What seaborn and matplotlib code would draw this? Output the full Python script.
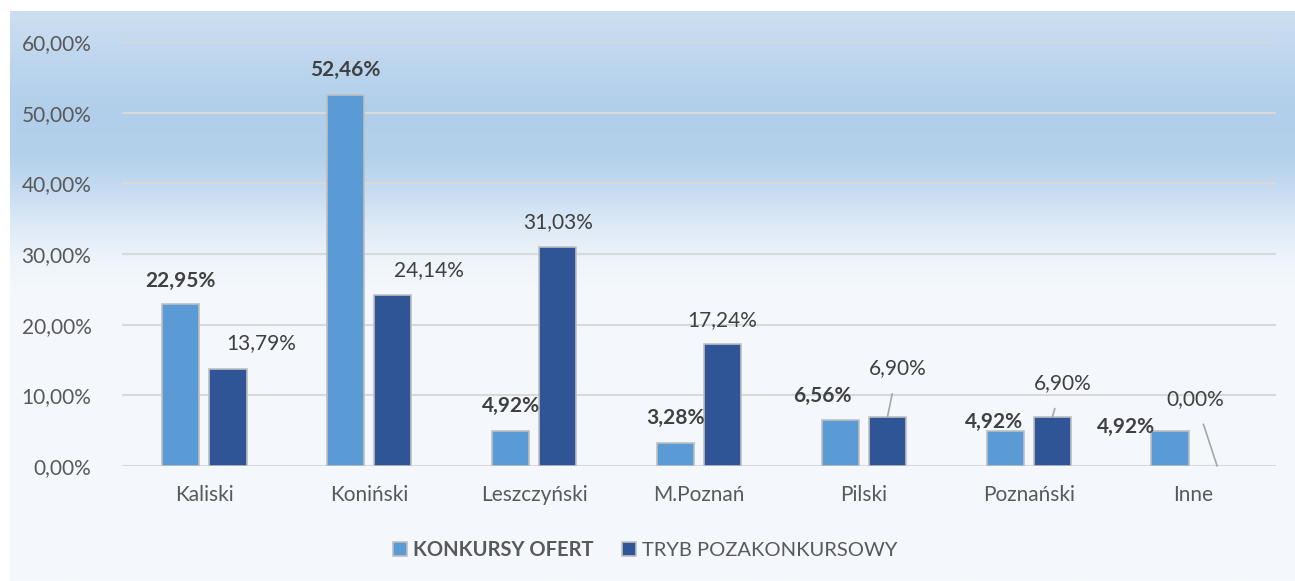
import numpy as np
import pandas as pd
import matplotlib.pyplot as plt
import seaborn as sns
from matplotlib.colors import LinearSegmentedColormap

# data
regions = ['Kaliski', 'Koniński', 'Leszczyński', 'M.Poznań', 'Pilski', 'Poznański', 'Inne']
konkursy = [22.95, 52.46, 4.92, 3.28, 6.56, 4.92, 4.92]
tryb = [13.79, 24.14, 31.03, 17.24, 6.90, 6.90, 0.00]
series = ['KONKURSY OFERT', 'TRYB POZAKONKURSOWY']

# label offsets from the bar top (pixels) and which labels get a leader line
off_konk = [(0, 23), (0, 25), (0, 25), (0, 25), (-18, 24), (-11, 9), (-44, 4)]
off_tryb = [(33, 25), (36, 25), (0, 25), (0, 24), (10, 49), (10, 34), (-22, 67)]
leader_tryb = [False, False, False, False, True, True, True]

df = pd.DataFrame({
    'region': regions * 2,
    'value': konkursy + tryb,
    'series': [series[0]] * len(regions) + [series[1]] * len(regions),
})

sns.set_style('white')
plt.rcParams['font.family'] = ['Lato', 'DejaVu Sans']

fig = plt.figure(figsize=(12.95, 5.81), dpi=100)

# gradient background of the chart area
H = 581
stops = [(11, '#CCDFF1'), (60, '#BDD6EE'), (110, '#B1CFEA'), (155, '#B3D1EB'),
         (185, '#C3DAF0'), (222, '#DCE9F6'), (260, '#EEF4FA'), (290, '#F4F8FC'),
         (581, '#F5F9FD')]
cmap = LinearSegmentedColormap.from_list(
    'bg', [((y - 11) / (H - 11), c) for y, c in stops])
bg = fig.add_axes([10 / 1295, 0, 1 - 10 / 1295, 1 - 11 / H])
bg.imshow(np.linspace(0, 1, 400).reshape(-1, 1), aspect='auto', cmap=cmap,
          extent=[0, 1, 0, 1], origin='upper')
bg.axis('off')

ax = fig.add_axes([122 / 1295, 1 - 466 / H, (1276 - 122) / 1295, (466 - 42) / H])
ax.set_facecolor('none')

colors = ['#5B9BD5', '#2F5597']
sns.barplot(data=df, x='region', y='value', hue='series', palette=colors,
            saturation=1, width=0.572, gap=0.21, edgecolor='#BFBFBF',
            linewidth=1.2, ax=ax, zorder=3)

ax.set_ylim(0, 60)
ax.set_yticks(range(0, 61, 10))
ax.set_yticklabels([f'{v},00%' for v in range(0, 61, 10)])
ax.yaxis.grid(True, color='#D9D9D9', linewidth=1.5, zorder=0)
ax.set_axisbelow(True)
for s in ax.spines.values():
    s.set_visible(False)
ax.tick_params(axis='both', length=0, labelsize=15, labelcolor='#595959')
ax.tick_params(axis='y', pad=22)
ax.tick_params(axis='x', pad=14)
ax.set_xlabel('')
ax.set_ylabel('')

def fmt(v):
    return f'{v:.2f}%'.replace('.', ',')

for cont, vals, offs, bold in [(ax.containers[0], konkursy, off_konk, True),
                               (ax.containers[1], tryb, off_tryb, False)]:
    for i, (bar, v, (dx, dy)) in enumerate(zip(cont, vals, offs)):
        xc = bar.get_x() + bar.get_width() / 2
        top = bar.get_height()
        if top == 0:
            bar.set_linewidth(0)
        arrow = None
        if not bold and leader_tryb[i]:
            arrow = dict(arrowstyle='-', color='#A6A6A6', lw=1.2,
                         shrinkA=9, shrinkB=0)
        ax.annotate(fmt(v), xy=(xc, top), xytext=(dx, dy),
                    textcoords='offset pixels', ha='center', va='center',
                    fontsize=15, color='#404040',
                    fontweight='bold' if bold else 'normal',
                    arrowprops=arrow, zorder=5)

handles, labels = ax.get_legend_handles_labels()
ax.legend_.remove()
leg = fig.legend(handles, labels, loc='center', bbox_to_anchor=(645 / 1295, 1 - 550 / H),
                 ncol=2, frameon=False, fontsize=14.5, handlelength=0.7,
                 handleheight=0.7, columnspacing=1.4, handletextpad=0.3)
for t in leg.get_texts():
    t.set_color('#595959')
leg.get_texts()[0].set_fontweight('bold')

fig.savefig('out.png', dpi=100, facecolor='white')
